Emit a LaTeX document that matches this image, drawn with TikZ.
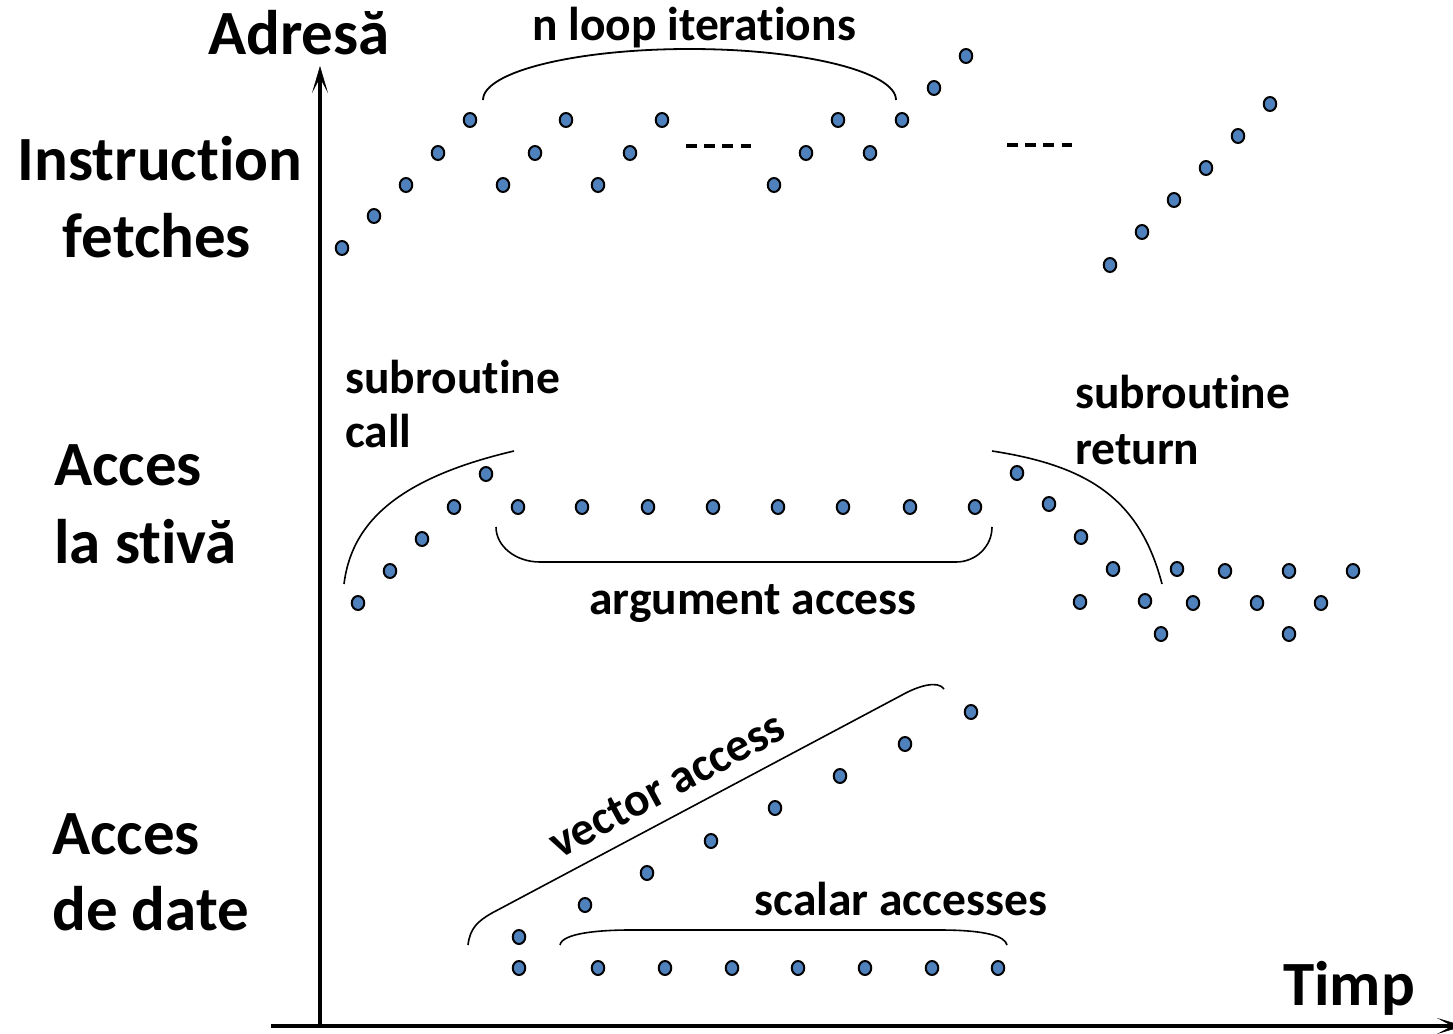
\documentclass[tikz,border=0pt]{standalone}
\usepackage{fontspec}
\setmainfont{Carlito}[Ligatures=NoCommon]
\usetikzlibrary{shapes.geometric,arrows.meta}
\definecolor{dotblue}{RGB}{79,129,189}
\begin{document}
\begin{tikzpicture}[x=1pt,y=-1pt,
  dot/.style={ellipse, draw=black, line width=2pt, fill=dotblue, minimum width=12.5pt, minimum height=14pt, inner sep=0pt},
  big/.style={font=\bfseries\fontsize{63}{74}\selectfont, inner sep=0pt},
  small/.style={font=\bfseries\fontsize{47.5}{56}\selectfont, inner sep=0pt},
  brace/.style={line width=1.6pt},
  axis/.style={line width=4.5pt},
  tip/.style={-{Stealth[length=27pt,width=16pt,inset=15pt,line width=0.6pt]}},
  dashrow/.style={line width=3.2pt, dash pattern=on 10.5pt off 7.7pt}]
\useasboundingbox (0,0) rectangle (1453,1033);
% axes
\coordinate (orig) at (320,1026);
\coordinate (ytop) at (320,66);
\coordinate (xleft) at (271,1026);
\coordinate (xright) at (1464,1026);
\draw[axis,tip] (orig) -- (ytop);
\draw[axis,tip] (xleft) -- (xright);
% labels
\node[big,anchor=base west] (adresa) at (208,55) {Adresă};
\node[big,anchor=base west] (timp) at (1283,1005) {Timp};
\node[big,anchor=base] (if1) at (160,180) {Instruction};
\node[big,anchor=base] (if2) at (157,257) {fetches};
\node[big,anchor=base west] (as1) at (54,485) {Acces};
\node[big,anchor=base west] (as2) at (54,563) {la stivă};
\node[big,anchor=base west] (ad1) at (52,854) {Acces};
\node[big,anchor=base west] (ad2) at (52,930) {de date};
\node[small,anchor=base] (loop) at (694,41) {n loop iterations};
\node[small,anchor=base west] (sc1) at (345,393) {subroutine};
\node[small,anchor=base west] (sc2) at (345,447) {call};
\node[small,anchor=base west] (sr1) at (1075,408) {subroutine};
\node[small,anchor=base west] (sr2) at (1075,464) {return};
\node[small,anchor=base] (arg) at (753,614) {argument access};
\node[small,anchor=base] (scal) at (901,915) {scalar accesses};
\node[small,anchor=base,rotate=28.3] (vec) at (674,798) {vector access};
% instruction fetch dots
\foreach \x/\y [count=\i] in {342/248,374/216,406/185,438/153,470/120,503/185,535/153,566/120,598/185,630/153,662/120,774/185,806/153,838/120,870/153,902/120,934/88,966/56,1110/265,1142/232,1174/200,1206/168,1238/136,1270/104}
  \node[dot] (i\i) at (\x,\y) {};
% stack dots
\foreach \x/\y [count=\i] in {358/603,390/571,422/539,454/507,486/474,518/507,582/507,648/507,713/507,778/507,843/507,910/507,975/507,1017/473,1049/504,1081/537,1113/569,1080/602,1145/601,1161/634,1177/569,1193/603,1225/571,1257/603,1289/571,1289/634,1321/603,1353/571}
  \node[dot] (s\i) at (\x,\y) {};
% data dots
\foreach \x/\y [count=\i] in {519/937,519/968,585/905,647/873,711/841,775/808,840/776,905/744,971/712,598/968,665/968,732/968,798/968,865/968,932/968,998/968}
  \node[dot] (d\i) at (\x,\y) {};
% dashes
\draw[dashrow] (686,146) -- (752,146);
\draw[dashrow] (1007,145) -- (1072,145);
% braces
\draw[brace,line width=1.8pt] (483,100) .. controls (483,71.8) and (575.5,49) .. (689.5,49) .. controls (803.5,49) and (896,71.8) .. (896,100);
\draw[brace] (344,584) .. controls (351,528) and (390,480) .. (514,451);
\draw[brace] (496,527) .. controls (496,546.3) and (515.7,562) .. (540,562) -- (956,562) .. controls (976,562) and (992,546.3) .. (992,527);
\draw[brace] (992,451) .. controls (1090,466) and (1140,500) .. (1162,584);
\draw[brace] (468,945) .. controls (470,928) and (478,921) .. (492,913) -- (902,695) .. controls (918,686) and (938,680) .. (944,689);
\draw[brace] (560,945) .. controls (562,933) and (600,930) .. (630,930) -- (940,930) .. controls (985,930) and (1005,936) .. (1007,945);
\end{tikzpicture}
\end{document}
